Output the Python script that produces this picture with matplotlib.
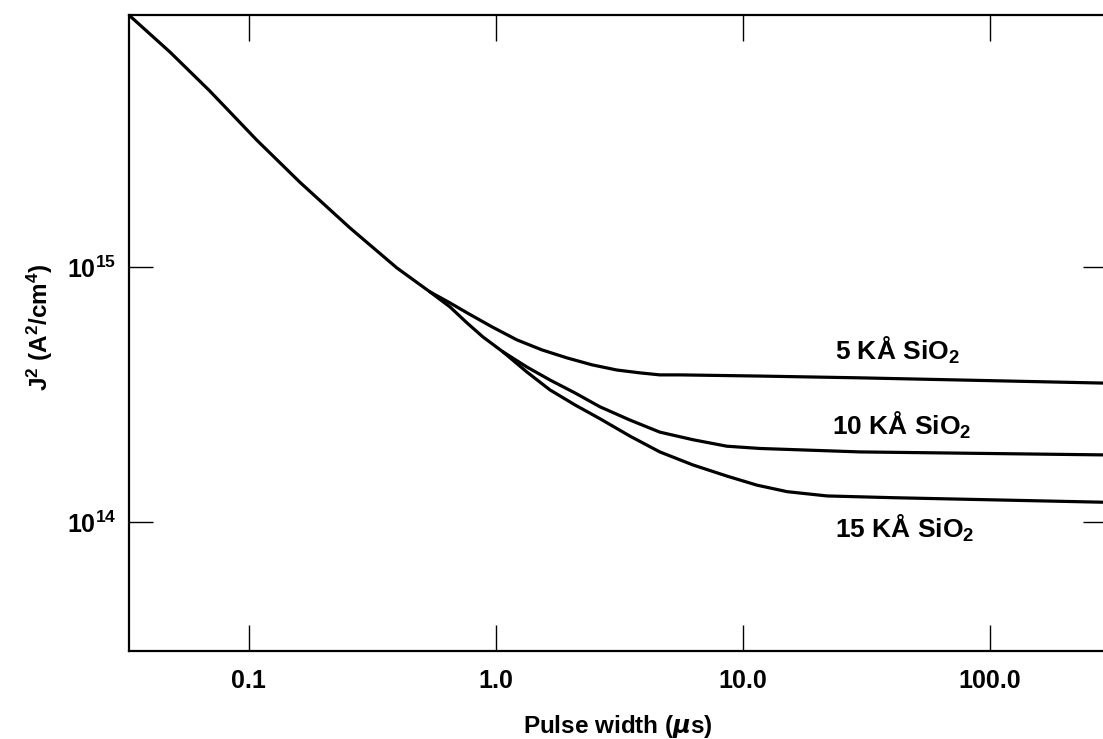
import matplotlib
matplotlib.use('Agg')
import matplotlib.pyplot as plt
from matplotlib.ticker import FixedLocator, FixedFormatter, NullLocator

plt.rcParams['font.family'] = ['Liberation Sans', 'DejaVu Sans']
plt.rcParams['font.weight'] = 'bold'
plt.rcParams['mathtext.default'] = 'regular'

# shared part of the curve (pulse width in us, J^2 in A^2/cm^4)
common_x = [0.0327, 0.0479, 0.0695, 0.1076, 0.1608, 0.2564, 0.3973, 0.541]
common_y = [9.77e15, 7.00e15, 4.92e15, 3.16e15, 2.16e15, 1.43e15, 9.96e14, 8.02e14]

# 5 KA branch
x_5k = [0.652, 0.764, 0.964, 1.216, 1.536, 1.938, 2.45, 3.09, 3.83, 4.61, 5.56, 11.7, 29.8, 286.0]
y_5k = [7.26e14, 6.64e14, 5.85e14, 5.20e14, 4.75e14, 4.42e14, 4.15e14, 3.96e14, 3.86e14,
        3.79e14, 3.79e14, 3.75e14, 3.69e14, 3.52e14]

# 10 and 15 KA run together a little longer
lower_x = [0.652, 0.764, 0.886, 1.067]
lower_y = [7.00e14, 6.06e14, 5.34e14, 4.67e14]

x_10k = [1.335, 1.655, 2.09, 2.64, 3.49, 4.61, 6.28, 8.61, 11.7, 29.8, 286.0]
y_10k = [4.07e14, 3.62e14, 3.22e14, 2.84e14, 2.52e14, 2.26e14, 2.11e14, 1.99e14, 1.95e14,
         1.89e14, 1.84e14]

x_15k = [1.335, 1.655, 2.09, 2.64, 3.49, 4.61, 6.28, 8.61, 11.4, 15.1, 21.9, 40.5, 286.0]
y_15k = [3.89e14, 3.31e14, 2.89e14, 2.55e14, 2.18e14, 1.89e14, 1.68e14, 1.52e14, 1.40e14,
         1.32e14, 1.27e14, 1.25e14, 1.20e14]

x_ticks = [0.1, 1.0, 10.0, 100.0]
x_ticklabels = ['0.1', '1.0', '10.0', '100.0']
y_ticks = [1e14, 1e15]
y_ticklabels = ['$10^{14}$', '$10^{15}$']

W, H = 1103, 739
fig = plt.figure(figsize=(W / 100, H / 100), dpi=100)
ax = fig.add_axes([129 / W, (H - 651) / H, (1107 - 129) / W, (651 - 15) / H])

lw = 2.3
kw = dict(color='black', lw=lw, solid_capstyle='round', solid_joinstyle='round')
ax.plot(common_x + lower_x + x_15k, common_y + lower_y + y_15k, **kw)
ax.plot(lower_x[-1:] + x_10k, lower_y[-1:] + y_10k, **kw)
ax.plot(common_x[-1:] + x_5k, common_y[-1:] + y_5k, **kw)

ax.set_xscale('log')
ax.set_yscale('log')
ax.set_xlim(0.0327, 298)
ax.set_ylim(3.13e13, 9.78e15)

ax.xaxis.set_major_locator(FixedLocator(x_ticks))
ax.xaxis.set_major_formatter(FixedFormatter(x_ticklabels))
ax.yaxis.set_major_locator(FixedLocator(y_ticks))
ax.yaxis.set_major_formatter(FixedFormatter(y_ticklabels))
ax.xaxis.set_minor_locator(NullLocator())
ax.yaxis.set_minor_locator(NullLocator())

ax.tick_params(axis='x', which='major', direction='in', length=19, width=1.0,
               top=True, labelsize=18, pad=13)
ax.tick_params(axis='y', which='major', direction='in', length=17, width=1.0,
               right=True, labelsize=18, pad=9)
for s in ax.spines.values():
    s.set_linewidth(1.6)

ax.set_xlabel('Pulse width ($\\mathit{\\mu}$s)', fontsize=17.5, fontweight='bold', labelpad=14)
fig.text(40 / W, 1 - 327 / H, 'J$^2$ (A$^2$/cm$^4$)', rotation=90,
         ha='center', va='center', fontsize=17.5, fontweight='bold')

lab = dict(ha='center', va='center', fontsize=19)
ax.text(42.0, 4.74e14, '5 KÅ SiO$_2$', **lab)
ax.text(44.0, 2.41e14, '10 KÅ SiO$_2$', **lab)
ax.text(45.3, 9.5e13, '15 KÅ SiO$_2$', **lab)

fig.savefig('out.png', dpi=100)
